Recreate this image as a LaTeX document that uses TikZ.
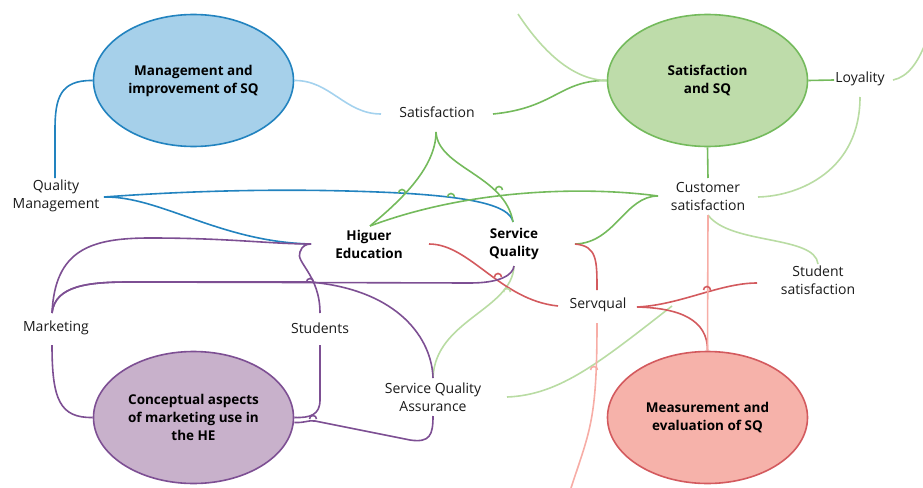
\documentclass[tikz,border=0pt]{standalone}
\usepackage{fontspec}
\setmainfont{Open Sans}
\usetikzlibrary{calc,shapes.geometric}
\definecolor{blueFill}{HTML}{A6D0EA}
\definecolor{blueLine}{HTML}{2283BF}
\definecolor{lightBlue}{HTML}{A4D2EE}
\definecolor{greenFill}{HTML}{BEDCAA}
\definecolor{greenLine}{HTML}{74BA5C}
\definecolor{lightGreen}{HTML}{B9DCA3}
\definecolor{purpleFill}{HTML}{C8B1CB}
\definecolor{purpleLine}{HTML}{7D4F93}
\definecolor{redFill}{HTML}{F6B2AA}
\definecolor{redLine}{HTML}{D35A5E}
\definecolor{pinkLine}{HTML}{F7ADA6}
\definecolor{textc}{HTML}{1A1A1A}
\tikzset{
  ell/.style={ellipse, line width=1.6pt, minimum width=200pt, minimum height=132pt, inner sep=0pt,
    align=center, font=\bfseries\fontsize{13.5}{18}\selectfont, text=black},
  lbl/.style={align=center, inner sep=0pt, font=\fontsize{14}{18}\selectfont, text=textc},
  blbl/.style={align=center, inner sep=0pt, font=\bfseries\fontsize{13.5}{18}\selectfont, text=black},
  con/.style={line width=1.6pt},
  bl/.style={con, draw=blueLine},
  lb/.style={con, draw=lightBlue},
  gr/.style={con, draw=greenLine},
  lg/.style={con, draw=lightGreen},
  rd/.style={con, draw=redLine},
  pk/.style={con, draw=pinkLine},
  pu/.style={con, draw=purpleLine},
}
\newcommand{\hopup}[3]{\draw[#1] ($(#2,#3)+(-3.5,0)$) arc[start angle=180, end angle=360, radius=3.5];}
\begin{document}
\begin{tikzpicture}[x=1pt,y=-1pt]
\useasboundingbox (0,0) rectangle (923,487);
% ellipses
\node[ell, draw=blueLine, fill=blueFill] (mgmt) at (193.5,80.5) {Management and\\improvement of SQ};
\node[ell, draw=greenLine, fill=greenFill] (sqsat) at (707.5,80.5) {Satisfaction\\and SQ};
\node[ell, draw=purpleLine, fill=purpleFill] (concept) at (193.5,417.5) {Conceptual aspects\\of marketing use in\\the HE};
\node[ell, draw=redLine, fill=redFill] (meas) at (707.5,417.5) {Measurement and\\evaluation of SQ};
% labels
\node[lbl] (sat) at (437,112) {Satisfaction};
\node[lbl] (loy) at (860,79) {Loyality};
\node[lbl] (qm) at (56,196) {Quality\\Management};
\node[lbl] (cs) at (708,196) {Customer\\satisfaction};
\node[blbl] (he) at (369,244) {Higuer\\Education};
\node[blbl] (sq) at (514,244) {Service\\Quality};
\node[lbl] (serv) at (598,305) {Servqual};
\node[lbl] (ss) at (818,280) {Student\\satisfaction};
\node[lbl] (mkt) at (56,328) {Marketing};
\node[lbl] (stu) at (320,328) {Students};
\node[lbl] (sqa) at (433,397) {Service Quality\\Assurance};
\coordinate (topfree) at (518,14);
\coordinate (rfree) at (925,44);
\coordinate (gfree) at (672,306);
\coordinate (bfree) at (571,488);
% blue
\draw[bl] (mgmt.west) .. controls (60,80) and (55,98) .. (55,130) -- ($(qm)+(-1,-18)$);
\draw[bl] ($(qm)+(48,1)$) .. controls (200,190) and (300,188) .. (400,193) .. controls (470,197) and (510,205) .. ($(sq)+(-1,-22)$);
\draw[bl] ($(qm)+(48,1)$) .. controls (160,196) and (220,242) .. ($(he)+(-58,0)$);
\draw[lb] (mgmt.east) .. controls (330,80) and (345,114) .. ($(sat)+(-56,2)$);
% green
\draw[gr] ($(sat)+(56,2)$) .. controls (555,108) and (560,80) .. (sqsat.west);
\draw[gr] (sqsat.east) -- ($(loy)+(-26,1)$);
\draw[gr] (sqsat.south) -- ($(cs)+(0,-18)$);
\draw[gr] ($(sat)+(-1,20)$) .. controls (436,170) and (395,205) .. ($(he)+(1,-18)$);
\draw[gr] ($(sat)+(-1,20)$) .. controls (438,168) and (505,175) .. ($(sq)+(-1,-22)$);
\draw[gr] ($(cs)+(-50,0)$) .. controls (600,188) and (480,185) .. ($(he)+(1,-18)$);
\draw[gr] ($(cs)+(-50,0)$) .. controls (625,196) and (615,243) .. ($(sq)+(61,0)$);
% light green
\draw[lg] (topfree) .. controls (545,55) and (575,80) .. (sqsat.west);
\draw[lg] ($(loy)+(33,1)$) .. controls (908,77) and (918,62) .. (rfree);
\draw[lg] ($(loy)+(0,18)$) .. controls (860,170) and (800,196) .. ($(cs)+(50,1)$);
\draw[lg] ($(cs)+(0,19)$) .. controls (730,245) and (815,235) .. ($(ss)+(0,-16)$);
\draw[lg] ($(sq)+(0,22)$) .. controls (512,310) and (435,320) .. ($(sqa)+(0,-19)$);
\draw[lg] ($(sqa)+(74,0)$) .. controls (560,395) and (600,362) .. (gfree);
% red
\draw[rd] ($(he)+(60,0)$) .. controls (470,244) and (500,300) .. ($(serv)+(-40,1)$);
\draw[rd] ($(sq)+(61,0)$) .. controls (597,246) and (597,260) .. ($(serv)+(-1,-15)$);
\draw[rd] ($(serv)+(39,2)$) .. controls (680,305) and (720,283) .. ($(ss)+(-61,3)$);
\draw[rd] (meas.north) .. controls (708,320) and (680,308) .. ($(serv)+(39,2)$);
\draw[pk] (meas.north) -- ($(cs)+(0,19)$);
\draw[pk] ($(serv)+(-1,18)$) .. controls (597,420) and (590,430) .. (bfree);
% purple
\draw[pu] ($(mkt)+(-4,-15)$) .. controls (55,250) and (90,238) .. (150,238) .. controls (230,238) and (270,244) .. ($(he)+(-58,0)$);
\draw[pu] ($(mkt)+(-4,-15)$) .. controls (55,285) and (90,282) .. (130,282) -- (470,283) .. controls (500,283) and (513,275) .. ($(sq)+(0,22)$);
\draw[pu] ($(mkt)+(-4,-15)$) .. controls (55,285) and (90,282) .. (130,282) -- (310,282) .. controls (400,290) and (432,340) .. ($(sqa)+(0,-19)$);
\draw[pu] ($(mkt)+(-4,17)$) .. controls (52,400) and (60,418) .. (concept.west);
\draw[pu] ($(stu)+(0,-15)$) .. controls (320,275) and (295,262) .. (300,252) .. controls (302,246) and (306,244) .. ($(he)+(-58,0)$);
\draw[pu] ($(stu)+(0,17)$) -- (320,400) .. controls (320,415) and (310,418) .. (concept.east);
\draw[pu] ($(concept.east)+(0,5)$) .. controls (305,423) and (308,420) .. (315,421) -- (410,440) .. controls (430,443) and (433,435) .. ($(sqa)+(0,19)$);
% hops
\hopup{gr}{402}{193}
\hopup{gr}{451}{197}
\hopup{gr}{499}{190}
\hopup{pu}{310}{282}
\hopup{pu}{313}{419}
\hopup{rd}{498}{277}
\hopup{lg}{507}{292}
\hopup{pk}{594}{370}
\hopup{rd}{707}{290}
\end{tikzpicture}
\end{document}
